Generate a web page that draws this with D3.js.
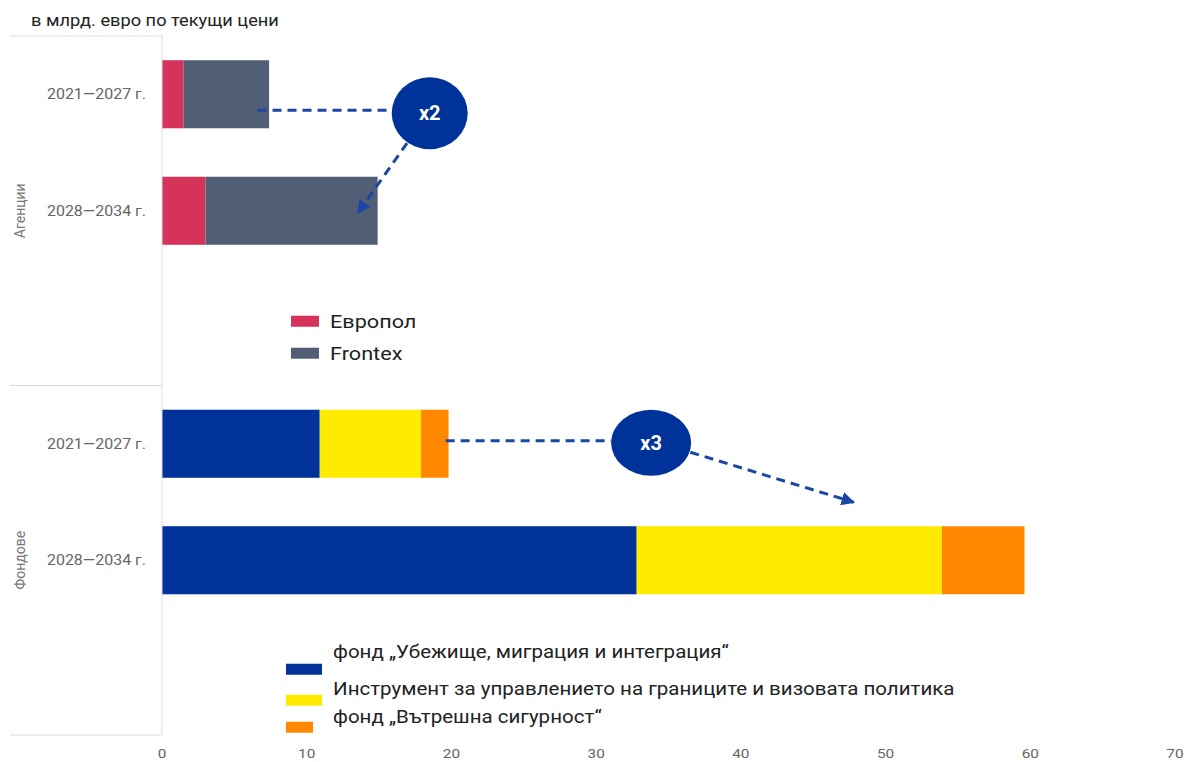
<!DOCTYPE html>
<html>
<head>
  <meta charset="utf-8">
  <script src="https://d3js.org/d3.v7.min.js"></script>
  <style>
    body { margin: 0; background: #fff; }
    text { font-family: Roboto, "Noto Sans", sans-serif; }
  </style>
</head>
<body>
  <div id="chart"></div>
  <script>
    // data (bn EUR, current prices)
    const groups = ["Агенции", "Фондове"];
    const periods = ["2021—2027 г.", "2028—2034 г."];

    const agencySeries = ["Европол", "Frontex"];
    const europol = [1.5, 3.0];
    const frontex = [5.9, 11.9];

    const fundSeries = [
      "фонд „Убежище, миграция и интеграция“",
      "Инструмент за управлението на границите и визовата политика",
      "фонд „Вътрешна сигурност“"
    ];
    const amif = [10.9, 32.8];
    const bmvi = [7.0, 21.1];
    const isf = [1.9, 5.7];

    const xTicks = [0, 10, 20, 30, 40, 50, 60, 70];
    const multipliers = ["x2", "x3"];

    const width = 1190, height = 762;
    const margin = { top: 36, right: 15, bottom: 27, left: 162 };
    const stretch = 1.14; // the original type is set a bit wide

    const svg = d3.select("#chart").append("svg")
      .attr("width", width)
      .attr("height", height);

    // text placed with a horizontal stretch
    function label(parent, tx, ty, str, size, fill, anchor) {
      return parent.append("text")
        .attr("transform", "translate(" + tx + "," + ty + ") scale(" + stretch + ",1)")
        .attr("text-anchor", anchor || "start")
        .attr("fill", fill)
        .style("font-size", size + "px")
        .text(str);
    }

    const x = d3.scaleLinear()
      .domain([0, 70])
      .range([margin.left, width - margin.right]);

    // every group has its two periods plus one empty slot for the legend
    const slots = [];
    groups.forEach(g => {
      periods.forEach(p => slots.push(g + "|" + p));
      slots.push(g + "|legend");
    });

    const y = d3.scaleBand()
      .domain(slots)
      .range([margin.top, height - margin.bottom])
      .paddingInner(0.416)
      .paddingOuter(0.208);

    const agencyColor = d3.scaleOrdinal().domain(agencySeries).range(["#d6335b", "#525e75"]);
    const fundColor = d3.scaleOrdinal().domain(fundSeries).range(["#003399", "#ffeb00", "#ff8800"]);

    // rows for stacking
    const agencyRows = periods.map((p, i) => ({ key: "Агенции|" + p, "Европол": europol[i], "Frontex": frontex[i] }));
    const fundRows = periods.map((p, i) => {
      const r = { key: "Фондове|" + p };
      r[fundSeries[0]] = amif[i];
      r[fundSeries[1]] = bmvi[i];
      r[fundSeries[2]] = isf[i];
      return r;
    });

    function drawStack(rows, keys, color) {
      const stacked = d3.stack().keys(keys)(rows);
      svg.append("g")
        .selectAll("g")
        .data(stacked)
        .join("g")
        .attr("fill", d => color(d.key))
        .selectAll("rect")
        .data(d => d)
        .join("rect")
        .attr("x", d => x(d[0]))
        .attr("y", d => y(d.data.key))
        .attr("width", d => x(d[1]) - x(d[0]))
        .attr("height", y.bandwidth());
    }
    drawStack(agencyRows, agencySeries, agencyColor);
    drawStack(fundRows, fundSeries, fundColor);

    // frame lines on the left
    const lineColor = "#dcdcdc";
    svg.append("line")
      .attr("x1", x(0)).attr("x2", x(0))
      .attr("y1", margin.top).attr("y2", height - margin.bottom)
      .attr("stroke", lineColor);
    // boundary between groups sits halfway between the legend slot and the next group
    const sep = (y("Агенции|legend") + y.bandwidth() + y("Фондове|" + periods[0])) / 2;
    [margin.top, sep, height - margin.bottom].forEach(v => {
      svg.append("line")
        .attr("x1", 10).attr("x2", x(0))
        .attr("y1", v).attr("y2", v)
        .attr("stroke", lineColor);
    });

    // period labels
    slots.filter(s => !s.endsWith("legend")).forEach(s => {
      label(svg, x(0) - 16, y(s) + y.bandwidth() / 2 + 5, s.split("|")[1], 14, "#666", "end");
    });

    // group labels
    const groupBounds = [[margin.top, sep], [sep, height - margin.bottom]];
    groups.forEach((g, i) => {
      const cy = (groupBounds[i][0] + groupBounds[i][1]) / 2;
      svg.append("text")
        .attr("transform", "translate(20," + cy + ") rotate(-90)")
        .attr("dy", "0.35em")
        .attr("text-anchor", "middle")
        .attr("fill", "#777")
        .style("font-size", "14px")
        .text(g);
    });

    // x axis labels
    const axisG = svg.append("g");
    xTicks.forEach(t => label(axisG, x(t), height - 4, t, 13.5, "#666", "middle"));

    // title
    label(svg, 31, 26, "в млрд. евро по текущи цени", 16, "#222");

    // legends
    const leg1Top = y("Агенции|legend");
    agencySeries.forEach((s, i) => {
      const cy = leg1Top + 28 + i * 32;
      svg.append("rect")
        .attr("x", 291).attr("y", cy - 5.5)
        .attr("width", 28).attr("height", 11)
        .attr("fill", agencyColor(s));
      label(svg, 330, cy + 7, s, 19, "#222");
    });

    const leg2Top = y("Фондове|legend");
    const leg2Rect = [0, 31, 58];
    const leg2Text = [-9, 28, 56];
    const leg2W = [36, 36, 27];
    fundSeries.forEach((s, i) => {
      svg.append("rect")
        .attr("x", 286).attr("y", leg2Top + 21 + leg2Rect[i])
        .attr("width", leg2W[i]).attr("height", 11)
        .attr("fill", fundColor(s));
      label(svg, 333, leg2Top + 24 + leg2Text[i], s, 18, "#222");
    });

    // multiplier annotations (positions in data units / rows)
    const annos = [
      { label: multipliers[0], from: 6.6, row: "Агенции|" + periods[0], cx: 18.5, cdy: 19, to: 13.55, toRow: "Агенции|" + periods[1], tdy: 2, rx: 38, ry: 36 },
      { label: multipliers[1], from: 19.6, row: "Фондове|" + periods[0], cx: 33.8, cdy: -1, to: 47.8, toRow: "Фондове|" + periods[1], tdy: -58, rx: 40, ry: 33 }
    ];
    const blue = "#003399", dash = "#1a46a6";

    svg.append("defs").append("marker")
      .attr("id", "head")
      .attr("viewBox", "0 0 10 10")
      .attr("refX", 9).attr("refY", 5)
      .attr("markerWidth", 4.5).attr("markerHeight", 4.5)
      .attr("orient", "auto")
      .append("path")
      .attr("d", "M0,0L10,5L0,10Z")
      .attr("fill", dash);

    annos.forEach(a => {
      const rowY = y(a.row) + y.bandwidth() / 2;
      const cx = x(a.cx), cy = rowY + a.cdy;
      const tx = x(a.to), ty = y(a.toRow) + y.bandwidth() / 2 + a.tdy;
      const lineY = rowY + (a.cdy > 5 ? 16 : -3);
      svg.append("line")
        .attr("x1", x(a.from)).attr("x2", cx - a.rx)
        .attr("y1", lineY).attr("y2", lineY)
        .attr("stroke", dash).attr("stroke-width", 3)
        .attr("stroke-dasharray", "9,6");
      // diagonal arrow starting at the ellipse edge
      const ang = Math.atan2(ty - cy, tx - cx);
      const sx = cx + a.rx * Math.cos(ang) * 1.02, sy = cy + a.ry * Math.sin(ang) * 1.02;
      svg.append("line")
        .attr("x1", sx).attr("y1", sy)
        .attr("x2", tx).attr("y2", ty)
        .attr("stroke", dash).attr("stroke-width", 3)
        .attr("stroke-dasharray", "9,6")
        .attr("marker-end", "url(#head)");
      svg.append("ellipse")
        .attr("cx", cx).attr("cy", cy)
        .attr("rx", a.rx).attr("ry", a.ry)
        .attr("fill", blue);
      svg.append("text")
        .attr("x", cx).attr("y", cy)
        .attr("dy", "0.35em")
        .attr("text-anchor", "middle")
        .attr("fill", "#fff")
        .style("font-size", "20px")
        .style("font-weight", "bold")
        .text(a.label);
    });
  </script>
</body>
</html>
